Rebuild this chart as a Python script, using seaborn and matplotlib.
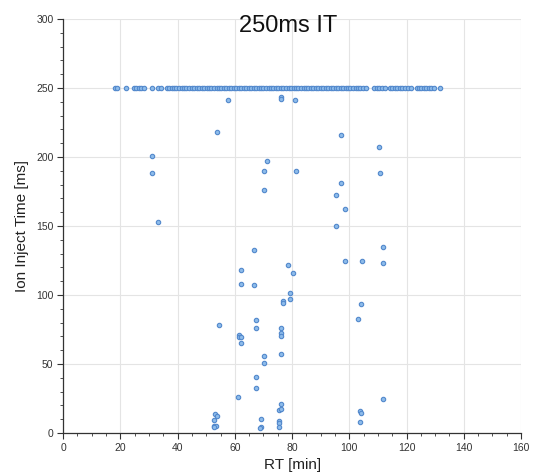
import matplotlib
matplotlib.use("Agg")
import matplotlib.pyplot as plt
import seaborn as sns
import pandas as pd
from matplotlib.ticker import MultipleLocator

# retention times of scans that hit the 250 ms injection limit
rt_max = [18.1, 18.9, 21.9, 24.6, 25.5, 26.4, 27.3, 28.3, 30.9, 33.2, 34.1,
          36.2, 37.0, 37.9, 38.8, 39.6, 40.5, 41.4, 42.2, 43.1, 44.0, 44.9,
          45.7, 46.6, 47.5, 48.4, 49.2, 50.1, 51.0, 51.8, 52.7, 53.6, 54.4,
          55.3, 56.2, 57.0, 57.9, 58.8, 59.6, 60.5, 61.4, 62.2, 63.1, 64.0,
          64.8, 65.7, 66.6, 67.4, 68.3, 69.2, 70.0, 70.9, 71.8, 72.6, 73.5,
          74.4, 75.2, 76.1, 77.0, 77.9, 78.8, 79.6, 80.5, 81.4, 82.2, 83.1,
          84.0, 84.8, 85.7, 86.6, 87.4, 88.3, 89.2, 90.0, 90.9, 91.8, 92.6,
          93.5, 94.4, 95.2, 96.1, 97.0, 97.8, 98.7, 99.6, 100.4, 101.3, 102.2,
          103.0, 103.9, 104.8, 105.7, 108.8, 109.6, 110.5, 111.3, 112.4, 114.2,
          115.0, 115.9, 116.8, 117.6, 118.5, 119.4, 120.4, 121.4, 123.5, 124.3,
          125.2, 126.1, 126.9, 127.8, 128.7, 129.6, 131.6]
it_max = [250] * len(rt_max)

# scans below the limit
rt_low = [57.7, 76.2, 76.2, 80.9, 53.6, 97.1, 110.3, 31.0, 30.9, 33.3,
          71.1, 70.3, 70.3, 81.2, 97.0, 95.4, 98.6, 95.4, 110.7, 111.9,
          98.4, 104.4, 111.9, 66.6, 62.3, 62.3, 66.6, 78.6, 80.2, 79.3,
          79.3, 76.8, 76.8, 104.2, 103.1, 54.4, 67.3, 67.3, 61.3, 61.3,
          62.3, 62.3, 76.1, 76.1, 76.1, 70.2, 70.2, 76.1, 67.5, 67.3,
          61.0, 76.1, 75.4, 76.1, 52.9, 53.7, 52.6, 52.6, 53.4, 52.6,
          69.1, 69.3, 68.8, 75.4, 75.4, 75.4, 111.6, 103.6, 104.2, 103.6]
it_low = [241.1, 243.7, 242.2, 241.1, 218.3, 216.0, 207.2, 201.0, 188.4, 152.9,
          196.9, 189.6, 175.9, 190.1, 180.9, 172.2, 162.3, 149.8, 188.4, 135.0,
          124.4, 124.4, 123.0, 132.8, 118.3, 107.8, 107.2, 121.7, 115.7, 101.7,
          97.3, 95.4, 94.4, 93.3, 82.6, 78.4, 81.8, 75.8, 71.0, 69.3,
          69.3, 65.4, 75.9, 72.2, 70.5, 55.8, 50.5, 57.2, 40.4, 32.4,
          26.3, 21.2, 16.7, 17.2, 13.8, 12.5, 9.4, 5.0, 5.3, 4.1,
          10.4, 4.3, 3.6, 8.9, 7.5, 4.1, 24.9, 16.2, 14.7, 8.2]

df = pd.DataFrame({
    "RT": rt_max + rt_low,
    "IT": it_max + it_low,
})

sns.set_style("ticks")
plt.rcParams["font.family"] = ["Liberation Sans", "DejaVu Sans"]

fig = plt.figure(figsize=(5.33, 4.76), dpi=100)
ax = fig.add_axes([0.1185, 0.0903, 0.859, 0.870])

sns.scatterplot(
    data=df, x="RT", y="IT", ax=ax,
    s=10, color="#8dbbea", edgecolor="#5288cc", linewidth=0.8, zorder=3,
)

ax.set_xlim(0, 160)
ax.set_ylim(0, 300)
ax.xaxis.set_major_locator(MultipleLocator(20))
ax.xaxis.set_minor_locator(MultipleLocator(5))
ax.yaxis.set_major_locator(MultipleLocator(50))
ax.yaxis.set_minor_locator(MultipleLocator(10))
ax.grid(True, which="major", color="#e4e4e4", linewidth=0.8, zorder=0)
ax.set_axisbelow(True)

for side in ["top", "right"]:
    ax.spines[side].set_visible(False)
for side in ["left", "bottom"]:
    ax.spines[side].set_color("#333333")
    ax.spines[side].set_linewidth(0.9)

ax.tick_params(which="major", length=4, width=0.8, color="#333333",
               labelsize=7.5, labelcolor="#333333", pad=3)
ax.tick_params(which="minor", length=2, width=0.6, color="#333333")

ax.set_xlabel("RT [min]", fontsize=11, color="#222222", labelpad=4)
ax.set_ylabel("Ion Inject Time [ms]", fontsize=11, color="#222222", labelpad=5)

fig.text(0.54, 0.945, "250ms IT", fontsize=17, ha="center", va="center",
         color="#111111")

fig.savefig("out.png", dpi=100)
